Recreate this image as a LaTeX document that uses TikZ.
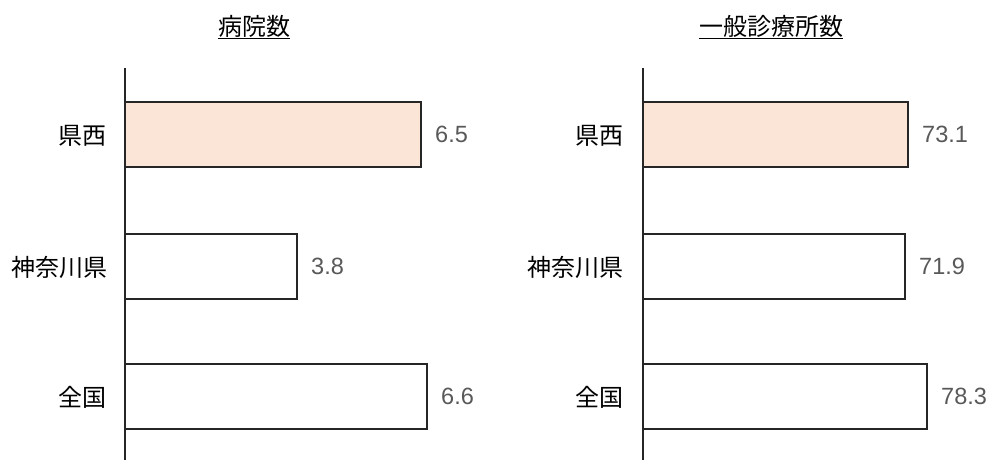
\documentclass[tikz,border=0pt]{standalone}
\usepackage{fontspec}
\setmainfont{Liberation Sans}
\newfontfamily\jp{Noto Sans CJK JP}
\definecolor{peach}{HTML}{FBE5D6}
\definecolor{valgray}{HTML}{595959}
\definecolor{linec}{HTML}{262626}
\begin{document}
\begin{tikzpicture}[x=1pt,y=-1pt,
 bar/.style={draw=linec, line width=1.3pt, anchor=north west, minimum height=65pt, inner sep=0pt, outer sep=0pt},
 hl/.style={fill=peach},
 val/.style={anchor=west, text=valgray, font=\fontsize{23.5}{23.5}\selectfont, inner sep=0pt},
 cat/.style={anchor=east, font=\jp\fontsize{24}{24}\selectfont, inner sep=0pt},
 ttl/.style={font=\jp\fontsize{24}{24}\selectfont, inner sep=0pt},
 uline/.style={draw=black, line width=1pt},
 axisline/.style={draw=linec, line width=1.3pt}]
\useasboundingbox[fill=white] (0,0) rectangle (995,460);
% titles
\node[ttl] (t1) at (254,26) {病院数};
\draw[uline] ([yshift=-1pt]t1.south west) -- ([yshift=-1pt]t1.south east);
\node[ttl] (t2) at (771,26) {一般診療所数};
\draw[uline] ([yshift=-1pt]t2.south west) -- ([yshift=-1pt]t2.south east);
% left chart
\node[bar, hl, minimum width=296pt] (l1) at (125,102) {};
\node[bar, minimum width=172pt] (l2) at (125,234) {};
\node[bar, minimum width=302pt] (l3) at (125,364) {};
\node[val] (lv1) at ([xshift=14pt]l1.east) {6.5};
\node[val] (lv2) at ([xshift=14pt]l2.east) {3.8};
\node[val] (lv3) at ([xshift=14pt]l3.east) {6.6};
\node[cat] (lc1) at (107,136) {県西};
\node[cat] (lc2) at (108,267) {神奈川県};
\node[cat] (lc3) at (107,397) {全国};
\coordinate (la) at (125,68);
\coordinate (lb) at (125,460);
\draw[axisline] (la) -- (lb);
% right chart
\node[bar, hl, minimum width=265pt] (r1) at (643,102) {};
\node[bar, minimum width=262pt] (r2) at (643,234) {};
\node[bar, minimum width=284pt] (r3) at (643,364) {};
\node[val] (rv1) at ([xshift=14pt]r1.east) {73.1};
\node[val] (rv2) at ([xshift=14pt]r2.east) {71.9};
\node[val] (rv3) at ([xshift=14pt]r3.east) {78.3};
\node[cat] (rc1) at (624,136) {県西};
\node[cat] (rc2) at (624,267) {神奈川県};
\node[cat] (rc3) at (624,397) {全国};
\coordinate (ra) at (643,68);
\coordinate (rb) at (643,460);
\draw[axisline] (ra) -- (rb);
\end{tikzpicture}
\end{document}
